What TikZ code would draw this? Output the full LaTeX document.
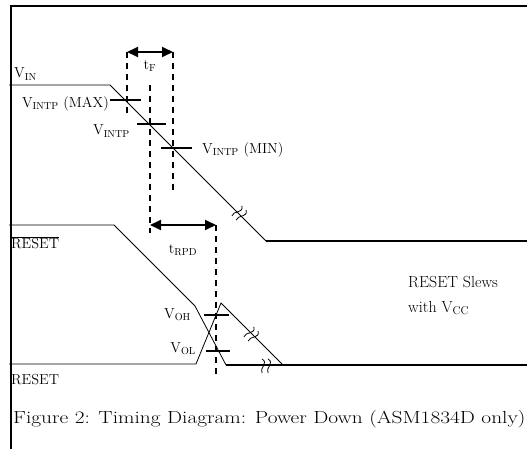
\documentclass[tikz,border=0pt]{standalone}
\usepackage{fontspec}
\usetikzlibrary{arrows.meta}

\tikzset{
  sig/.style={line width=0.8pt},
  level/.style={line width=1.9pt},
  guide/.style={line width=1.9pt, dash pattern=on 6pt off 5pt},
  vtick/.style={line width=1.9pt},
  span/.style={line width=1.9pt, {Triangle[length=11pt,width=10pt]}-{Triangle[length=11pt,width=10pt]}},
  lbl/.style={font=\fontsize{14.5}{16}\selectfont, inner sep=0pt},
  slewtext/.style={font=\fontsize{16}{19}\selectfont, inner sep=0pt, anchor=base west},
}

% squiggle pair that marks a break in a slope
\newcommand{\brkmark}[2]{%
  \begin{scope}[shift={#1}, rotate=#2]
    \draw[sig] (-3,-7) .. controls (4,-3) and (-6,2) .. (-3,7);
    \draw[sig] (3,-7) .. controls (10,-3) and (0,2) .. (3,7);
  \end{scope}}

\begin{document}
\begin{tikzpicture}[x=1pt, y=-1pt]
    \useasboundingbox (0,0) rectangle (527,449);

    % Rahmen
    \draw[level] (11,449) -- (11,6) -- (527,6);

    % Sinyal V_IN
    \draw[sig] (9,85) -- (110,85) -- (266,241);
    \draw[level] (266,241) -- (527,241);
    \brkmark{(239,213)}{-45}
    \node[lbl, anchor=west] (vin) at (14,74) {V\textsubscript{IN}};

    % Sinyal RESET (aktif rendah)
    \draw[sig] (9,225) -- (114,225) -- (195,306) -- (226,365);
    \draw[level] (226,365) -- (527,365);
    \brkmark{(265,366)}{0}
    \node[lbl, anchor=west] (nrst) at (11,243) {$\overline{\mbox{RESET}}$};

    % Sinyal RESET
    \draw[sig] (9,364) -- (196,364) -- (221,303) -- (283,365);
    \brkmark{(251,334)}{-45}
    \node[lbl, anchor=west] (rst) at (11,380) {RESET};

    % Garis bantu putus-putus
    \coordinate (fL) at (127,52);
    \coordinate (fM) at (150,85);
    \coordinate (fR) at (173,52);
    \coordinate (rpdL) at (150,225);
    \coordinate (rpdR) at (216,225);
    \draw[guide] (fL) -- (127,114);
    \draw[guide] (fM) -- (150,233);
    \draw[guide] (fR) -- (173,194);
    \draw[guide] (rpdR) -- (216,376);

    % Panah t_F dan t_RPD
    \draw[span] (fL) -- (fR);
    \node[lbl] (tf) at (150,66) {t\textsubscript{F}};
    \draw[span] (rpdL) -- (rpdR);
    \node[lbl] (trpd) at (183,250) {t\textsubscript{RPD}};

    % Ambang V_INTP
    \draw[vtick] (110,100) -- (141,100);
    \node[lbl, anchor=east] (vmax) at (109,104) {V\textsubscript{INTP} (MAX)};
    \draw[vtick] (137,124) -- (166,124);
    \node[lbl, anchor=east] (vtyp) at (130,131) {V\textsubscript{INTP}};
    \draw[vtick] (161,148) -- (192,148);
    \node[lbl, anchor=west] (vmin) at (202,150) {V\textsubscript{INTP} (MIN)};

    % Ambang V_OH dan V_OL
    \draw[vtick] (204,315) -- (229,315);
    \node[lbl, anchor=east] (voh) at (191,315) {V\textsubscript{OH}};
    \draw[vtick] (206,351) -- (230,351);
    \node[lbl, anchor=east] (vol) at (196,349) {V\textsubscript{OL}};

    % Keterangan
    \node[slewtext] (slew1) at (408,287) {RESET Slews};
    \node[slewtext] (slew2) at (408,312) {with V\textsubscript{CC}};
    \node[anchor=west, inner sep=0pt, font=\fontsize{17.5}{20}\selectfont] (cap) at (13,419)
        {\scalebox{1.22}[1]{Figure 2: Timing Diagram: Power Down (ASM1834D only)}};
\end{tikzpicture}
\end{document}
